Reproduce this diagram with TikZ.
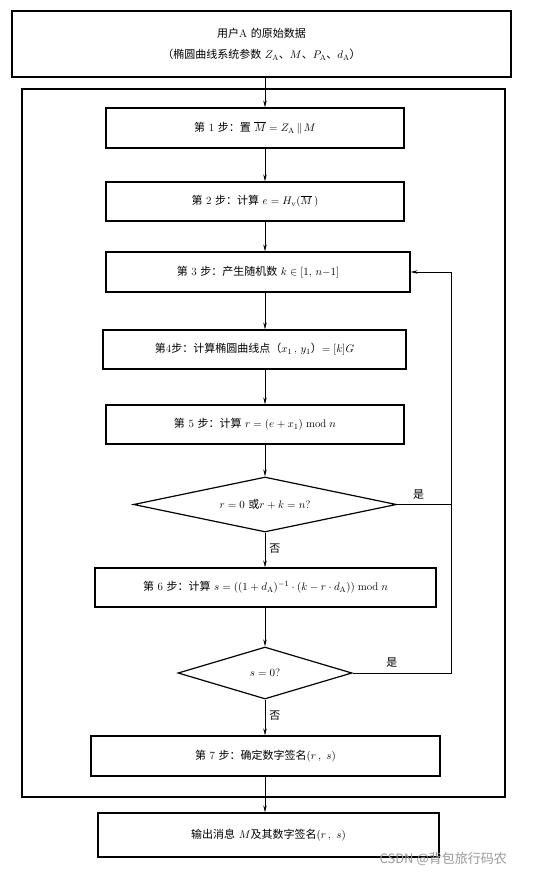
\documentclass[tikz,border=0pt]{standalone}
\usepackage{fontspec}
\usepackage{amsmath}
\newfontfamily\cjk{Noto Sans CJK SC}
\usetikzlibrary{arrows.meta,shapes.geometric}

\begin{document}
\begin{tikzpicture}[x=1pt,y=-1pt,
		stepbox/.style = {draw, line width=1.2pt, rectangle, inner sep=0pt, font=\fontsize{11}{13}\selectfont},
		ask/.style = {draw, line width=1.2pt, diamond, inner sep=0pt, font=\fontsize{11}{13}\selectfont},
		arr/.style = {draw, line width=0.7pt, -{Stealth[length=7pt,width=3.5pt]}},
		tag/.style = {font=\cjk\fontsize{11}{13}\selectfont, inner sep=1pt}]
		\useasboundingbox (0,0) rectangle (537,879);
		\fill[white] (0,0) rectangle (537,879);
		\node [stepbox, minimum width=499pt, minimum height=66pt, align=center, font=\fontsize{11}{21}\selectfont] (user) at (261.5,44)
			{{\cjk 用户}A {\cjk 的原始数据}\\{\cjk （椭圆曲线系统参数} $Z_{\mathrm{A}}${\cjk 、}$M${\cjk 、}$P_{\mathrm{A}}${\cjk 、}$d_{\mathrm{A}}${\cjk ）}};
		\draw [line width=1.1pt] (22,89) rectangle (505,797);
		\node [stepbox, minimum width=298pt, minimum height=40pt] (s1) at (255,128)
			{{\cjk 第} 1 {\cjk 步：置} $\overline{M}=Z_{\mathrm{A}}\,\|\,M$};
		\node [stepbox, minimum width=298pt, minimum height=39pt] (s2) at (255,201.5)
			{{\cjk 第} 2 {\cjk 步：计算} $e=H_{\mathrm{v}}(\overline{M}\,)$};
		\node [stepbox, minimum width=304pt, minimum height=40pt] (s3) at (258,272)
			{{\cjk 第} 3 {\cjk 步：产生随机数} $k\in[1,\,n{-}1]$};
		\node [stepbox, minimum width=303pt, minimum height=39pt] (s4) at (254.5,349.5)
			{{\cjk 第}4{\cjk 步：计算椭圆曲线点（}$x_1$\,,\ $y_1${\cjk ）}$=[k]G$};
		\node [stepbox, minimum width=298pt, minimum height=39pt] (s5) at (255,424.5)
			{{\cjk 第} 5 {\cjk 步：计算} $r=(e+x_1)\bmod n$};
		\node [ask, aspect=4.8, minimum width=263pt, minimum height=55pt] (d1) at (265,504.5)
			{$r=0$ {\cjk 或}$r+k=n$?};
		\node [stepbox, minimum width=341pt, minimum height=39pt] (s6) at (265.5,587.5)
			{{\cjk 第} 6 {\cjk 步：计算} $s=((1+d_{\mathrm{A}})^{-1}\cdot(k-r\cdot d_{\mathrm{A}}))\bmod n$};
		\node [ask, aspect=3.35, minimum width=174pt, minimum height=52pt] (d2) at (265,673)
			{$s=0$?};
		\node [stepbox, minimum width=349pt, minimum height=40pt] (s7) at (265.5,756)
			{{\cjk 第} 7 {\cjk 步：确定数字签名}$(r\,,\ s)$};
		\node [stepbox, minimum width=341pt, minimum height=44pt] (out) at (268.5,835)
			{{\cjk 输出消息} $M${\cjk 及其数字签名}$(r\,,\ s)$};
		\coordinate (trunk) at (265,0);
		\coordinate (back) at (451,0);
		\draw [arr] (user.south -| trunk) -- (s1.north -| trunk);
		\draw [arr] (s1.south -| trunk) -- (s2.north -| trunk);
		\draw [arr] (s2.south -| trunk) -- (s3.north -| trunk);
		\draw [arr] (s3.south -| trunk) -- (s4.north -| trunk);
		\draw [arr] (s4.south -| trunk) -- (s5.north -| trunk);
		\draw [arr] (s5.south -| trunk) -- (d1.north);
		\draw [arr] (d1.south) -- (s6.north -| d1.south) node [tag, pos=0.45, right=3pt] {否};
		\draw [arr] (s6.south -| d2.north) -- (d2.north);
		\draw [arr] (d2.south) -- (s7.north -| d2.south) node [tag, pos=0.45, right=3pt] {否};
		\draw [arr] (s7.south -| trunk) -- (out.north -| trunk);
		\draw [line width=0.7pt] (d1.east) -- (d1.east -| back) node [tag, pos=0.4, above=4pt] {是};
		\draw [arr] (d2.east) -- (d2.east -| back) node [tag, pos=0.4, above=4pt] {是} |- (s3.east);
		\node [font=\cjk\fontsize{13}{15}\selectfont, text=black!40, anchor=east, inner sep=0pt] (mark) at (507,859) {CSDN @背包旅行码农};
	\end{tikzpicture}
\end{document}
